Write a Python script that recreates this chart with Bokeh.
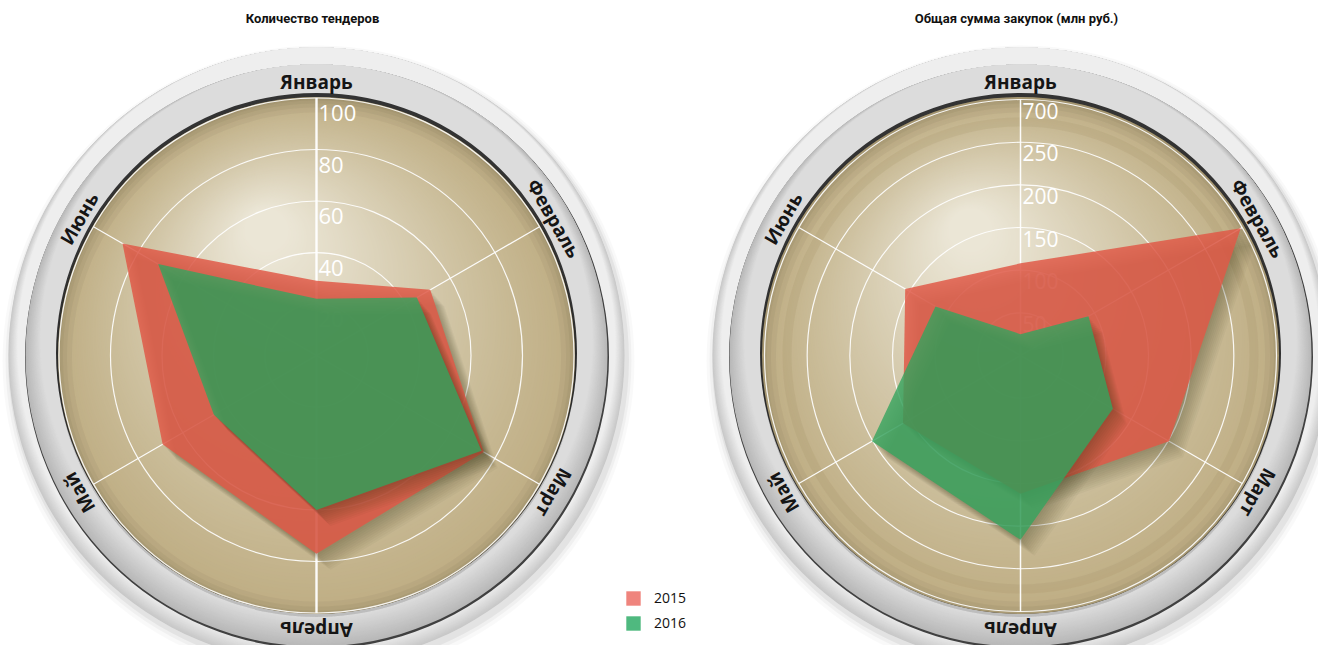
import numpy as np
from bokeh.plotting import figure
from bokeh.layouts import row
from bokeh.models import Range1d, Legend, LegendItem
from bokeh.core.properties import value
from bokeh.embed import file_html
from bokeh.resources import INLINE

# ---------------- data ----------------
months = ["Январь", "Февраль", "Март", "Апрель", "Май", "Июнь"]
series_names = ["2015", "2016"]

tenders_2015 = [29, 51, 75, 77, 69, 87]
tenders_2016 = [22, 45, 74, 60, 46, 71]
tender_ticks = [20, 40, 60, 80, 100]
tender_tick_labels = ["20", "40", "60", "80", "100"]

sum_2015 = [108, 298, 201, 162, 159, 156]
sum_2016 = [25, 92, 125, 216, 201, 115]
sum_ticks = [50, 100, 150, 200, 250, 300]
sum_tick_labels = ["50", "100", "150", "200", "250", "700"]

titles = ["Количество тендеров", "Общая сумма закупок (млн руб.)"]

# ---------------- helpers ----------------
H = 645
W1, W2 = 704, 614


def hex2rgb(h):
    return tuple(int(h[i:i + 2], 16) for i in (1, 3, 5))


def mix(c1, c2, t):
    a = hex2rgb(c1)
    b = hex2rgb(c2)
    return "#%02x%02x%02x" % tuple(int(round(a[i] + (b[i] - a[i]) * t)) for i in range(3))


theta = np.pi / 2 - np.arange(len(months)) * np.pi / 3


def radar(width, cx_px, cy_px, rmax_val, rmax_px, v15, v16, ticks, tick_labels,
          title, tick_dy, tick_size, axis_w, extra_band=False):
    k = rmax_px / rmax_val
    p = figure(width=width, height=H, output_backend="svg", toolbar_location=None,
               x_range=Range1d(-cx_px / k, (width - cx_px) / k),
               y_range=Range1d(-(H - cy_px) / k, cy_px / k),
               x_axis_type=None, y_axis_type=None, min_border=0,
               outline_line_color=None, background_fill_color="white",
               border_fill_color="white")
    p.grid.visible = False

    def u(px):
        return np.asarray(px, dtype=float) / k

    # soft drop shadow
    for s, dy, a in [(316, -6, 0.025), (313, -5, 0.035), (310.5, -4, 0.05)]:
        p.circle(x=float(u(2)), y=float(u(dy)), radius=float(u(s)), fill_color="#000000",
                 fill_alpha=a, line_color=None)
    # outer bevel
    n = 20
    ts = np.linspace(0, 1, n)
    p.circle(x=np.zeros(n), y=u(ts * 9), radius=u(308 - ts * 9),
             fill_color=[mix("#c8c8c8", "#eeeeee", t) for t in ts], line_color=None)
    # thin dark line at outer edge of label band (strong at bottom)
    p.circle(x=float(u(0.5)), y=float(u(-1.4)), radius=float(u(292)), fill_color="#404040",
             line_color=None)
    # label band
    n = 30
    ts = np.linspace(0, 1, n)
    p.circle(x=np.zeros(n), y=u(ts * 15), radius=u(291 - ts * 15),
             fill_color=[mix("#b8b8b8", "#dcdcdc", t) for t in ts], line_color=None)
    # dark inner edge (thick at top)
    p.circle(x=0, y=float(u(2.2)), radius=float(u(260.5)), fill_color="#333333", line_color=None)
    # beige radial gradient
    n = 110
    ts = np.linspace(0, 1, n)
    hx, hy = -50.0, 125.0
    p.circle(x=u(ts * hx), y=u(ts * hy), radius=u(258.5 * (1 - ts) + 22 * ts),
             fill_color=[mix("#bfae84", "#ebe6d6", t ** 1.1) for t in ts], line_color=None)
    # inner shadow at rim (stronger at top)
    for w in [2, 5, 9, 14]:
        p.annulus(x=0, y=float(u(-1.5)), inner_radius=float(u(258.5 - w)),
                  outer_radius=float(u(260)),
                  fill_color="#000000", fill_alpha=0.035, line_color=None)
    if extra_band:
        p.annulus(x=0, y=0, inner_radius=float(u(229)), outer_radius=float(u(238)),
                  fill_color="#9c8a5c", fill_alpha=0.16, line_color=None)

    # grid circles
    p.circle(x=np.zeros(len(ticks)), y=np.zeros(len(ticks)), radius=ticks,
             fill_color=None, line_color="white", line_width=1.2, line_alpha=0.9)
    # radial axes
    lw = [axis_w if i in (0, 3) else 1.2 for i in range(len(months))]
    p.segment(x0=np.zeros(len(months)), y0=np.zeros(len(months)),
              x1=rmax_val * np.cos(theta), y1=rmax_val * np.sin(theta),
              line_color="white", line_width=lw, line_alpha=0.95)
    # tick labels
    p.text(x=np.zeros(len(ticks)), y=ticks, text=tick_labels, x_offset=2, y_offset=tick_dy,
           text_color="white", text_font=value("Open Sans"), text_font_size=tick_size,
           text_baseline="middle", text_align="left")

    # series polygons
    x15 = np.array(v15) * np.cos(theta)
    y15 = np.array(v15) * np.sin(theta)
    x16 = np.array(v16) * np.cos(theta)
    y16 = np.array(v16) * np.sin(theta)
    for s in range(1, 11):
        p.patch(x15 + u(1.4 * s), y15 - u(1.6 * s), fill_color="#2a1a05",
                fill_alpha=0.03, line_color=None)
    r15 = p.patch(x15, y15, fill_color="#e05846", fill_alpha=0.84, line_color=None)
    for s in range(1, 11):
        p.patch(x16 + u(1.4 * s), y16 - u(1.6 * s), fill_color="#2a1a05",
                fill_alpha=0.03, line_color=None)
    r16 = p.patch(x16, y16, fill_color="#35a45e", fill_alpha=0.8, line_color=None)

    # category labels around ring
    rl = float(u(274))
    p.text(x=rl * np.cos(theta), y=rl * np.sin(theta), text=months,
           angle=theta - np.pi / 2, text_align="center", text_baseline="middle",
           text_color="#151515", text_font=value("Open Sans"), text_font_style="bold",
           text_font_size="19px")

    # title
    p.text(x=[float(u(-4))], y=[float(u(cy_px - 18))], text=[title], text_align="center",
           text_baseline="middle", text_color="#111111", text_font=value("Roboto"),
           text_font_style="bold", text_font_size="13px")
    return p, r15, r16


p1, a15, a16 = radar(W1, 316, 355, 100, 257.5, tenders_2015, tenders_2016,
                     tender_ticks, tender_tick_labels, titles[0], 15, "22px", 2.4)
p2, b15, b16 = radar(W2, 316, 355, 300, 256, sum_2015, sum_2016,
                     sum_ticks, sum_tick_labels, titles[1], 11, "21px", 1.5, extra_band=True)

# legend keys (lighter swatches like the reference); single-point patches draw nothing
key15 = p1.patch(x=[0], y=[0], fill_color="#ef847d", line_color=None)
key16 = p1.patch(x=[0], y=[0], fill_color="#4fb97f", line_color=None)
legend = Legend(items=[LegendItem(label=series_names[0], renderers=[key15]),
                       LegendItem(label=series_names[1], renderers=[key16])],
                location=(624, 13), padding=0, margin=0, spacing=6,
                glyph_width=18, glyph_height=18, label_height=18, label_standoff=12,
                label_text_font="Open Sans", label_text_font_size="14px",
                label_text_color="#111111",
                background_fill_alpha=0, border_line_alpha=0)
p1.add_layout(legend)

layout = row(p1, p2)
open("out.html", "w").write(file_html(layout, INLINE))
